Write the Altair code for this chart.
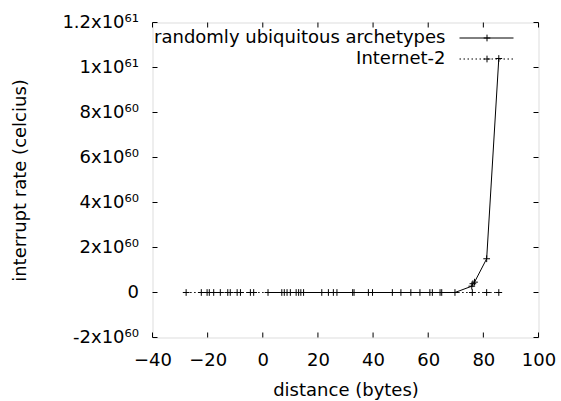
import json
import altair as alt
import pandas as pd

# ---- data ----
s1_name = "randomly ubiquitous archetypes"
s1_x = [1.9, 7.8, 10.0, 13.0, 14.8, 21.4, 25.6, 33.1, 39.8, 47.0, 53.7, 60.6,
        64.9, 69.7, 75.8, 76.2, 76.8, 81.2, 85.6]
s1_y = [0, 0, 0, 0, 0, 0, 0, 0, 0, 0, 0, 0,
        0, 0, 2.8e59, 3.9e59, 4.6e59, 1.5e60, 1.04e61]

s2_name = "Internet-2"
s2_x = [-27.8, -22.3, -20.2, -19.4, -17.8, -15.4, -12.7, -11.8, -9.3, -8.1,
        -4.5, -3.3, 6.9, 8.8, 12.1, 13.8, 23.8, 26.9, 32.6, 38.3, 50.1, 57.0,
        61.5, 64.3, 76.0, 81.2, 85.6]
s2_y = [0] * len(s2_x)

x_ticks = [-40, -20, 0, 20, 40, 60, 80, 100]
y_ticks = [-2e60, 0, 2e60, 4e60, 6e60, 8e60, 1e61, 1.2e61]
y_tick_labels = ["-2x10⁶⁰", "0", "2x10⁶⁰", "4x10⁶⁰", "6x10⁶⁰", "8x10⁶⁰",
                 "1x10⁶¹", "1.2x10⁶¹"]

FONT = "DejaVu Sans"
FS = 18
W, H = 386, 315
TICK = 5

df1 = pd.DataFrame({"x": s1_x, "y": s1_y})
df2 = pd.DataFrame({"x": s2_x, "y": s2_y})

xscale = alt.Scale(domain=[-40, 100], nice=False, zero=False)
yscale = alt.Scale(domain=[-2e60, 1.2e61], nice=False, zero=False)

label_expr = json.dumps(y_tick_labels, ensure_ascii=False) + "[round(datum.value/2e60)+1]"

xaxis = alt.Axis(values=x_ticks, title="distance (bytes)", grid=False, domain=False,
                 ticks=False, tickSize=0, labelPadding=14, labelFont=FONT,
                 labelFontSize=FS, labelColor="black", titleFont=FONT,
                 titleFontSize=FS, titleFontWeight="normal", titleColor="black",
                 titleX=W / 2, titleY=53, titleBaseline="middle", labelFlush=False)
yaxis = alt.Axis(values=y_ticks, title="interrupt rate (celcius)", grid=False,
                 domain=False, ticks=False, tickSize=0, labelPadding=14,
                 labelExpr=label_expr, labelFont=FONT, labelFontSize=FS,
                 labelColor="black", titleFont=FONT, titleFontSize=FS,
                 titleFontWeight="normal", titleColor="black", titleX=-132,
                 titleY=H / 2, titleBaseline="middle", titleAlign="center",
                 titleAngle=270, labelFlush=False)

plus = "M-1,0L1,0M0,-1L0,1"

line1 = alt.Chart(df1).mark_line(color="black", strokeWidth=1).encode(
    x=alt.X("x:Q", scale=xscale, axis=xaxis),
    y=alt.Y("y:Q", scale=yscale, axis=yaxis),
)
pts1 = alt.Chart(df1).mark_point(shape=plus, filled=False, color="black",
                                 size=45, strokeWidth=1, opacity=1).encode(
    x=alt.X("x:Q", scale=xscale), y=alt.Y("y:Q", scale=yscale))

line2 = alt.Chart(df2).mark_line(color="black", strokeWidth=1,
                                 strokeDash=[1.5, 2.5]).encode(
    x=alt.X("x:Q", scale=xscale), y=alt.Y("y:Q", scale=yscale))
pts2 = alt.Chart(df2).mark_point(shape=plus, filled=False, color="black",
                                 size=45, strokeWidth=1, opacity=1).encode(
    x=alt.X("x:Q", scale=xscale), y=alt.Y("y:Q", scale=yscale))

# inward ticks on all four sides
xt = pd.DataFrame({"v": x_ticks})
yt = pd.DataFrame({"v": y_ticks})
tick_bottom = alt.Chart(xt).mark_rule(color="black", strokeWidth=1).encode(
    x=alt.X("v:Q", scale=xscale), y=alt.value(H), y2=alt.value(H - TICK))
tick_top = alt.Chart(xt).mark_rule(color="black", strokeWidth=1).encode(
    x=alt.X("v:Q", scale=xscale), y=alt.value(0), y2=alt.value(TICK))
tick_left = alt.Chart(yt).mark_rule(color="black", strokeWidth=1).encode(
    y=alt.Y("v:Q", scale=yscale), x=alt.value(0), x2=alt.value(TICK))
tick_right = alt.Chart(yt).mark_rule(color="black", strokeWidth=1).encode(
    y=alt.Y("v:Q", scale=yscale), x=alt.value(W), x2=alt.value(W - TICK))

# legend (top right, gnuplot style: label then sample)
def legend_entry(name, ypix, dash):
    d = pd.DataFrame({"label": [name]})
    txt = alt.Chart(d).mark_text(align="right", baseline="middle", font=FONT,
                                 fontSize=FS, color="black").encode(
        text="label:N", x=alt.value(293), y=alt.value(ypix))
    rule_kw = dict(color="black", strokeWidth=1)
    if dash:
        rule_kw["strokeDash"] = dash
    rl = alt.Chart(d).mark_rule(**rule_kw).encode(
        x=alt.value(307), x2=alt.value(361), y=alt.value(ypix))
    pt = alt.Chart(d).mark_point(shape=plus, filled=False, color="black", size=45,
                                 strokeWidth=1, opacity=1).encode(
        x=alt.value(334.5), y=alt.value(ypix))
    return [txt, rl, pt]

leg = legend_entry(s1_name, 15.5, None) + legend_entry(s2_name, 36.5, [1.5, 2.5])

chart = alt.layer(
    line1, pts1, line2, pts2, tick_bottom, tick_top, tick_left, tick_right, *leg
).properties(
    width=W, height=H,
    autosize=alt.AutoSizeParams(type="none"),
    padding={"left": 152.5, "top": 22.5, "right": 22.5, "bottom": 63.5},
).configure_view(stroke="black", strokeWidth=1).configure(background="white")

chart.save("out.html", embed_options={"renderer": "svg", "actions": False})
